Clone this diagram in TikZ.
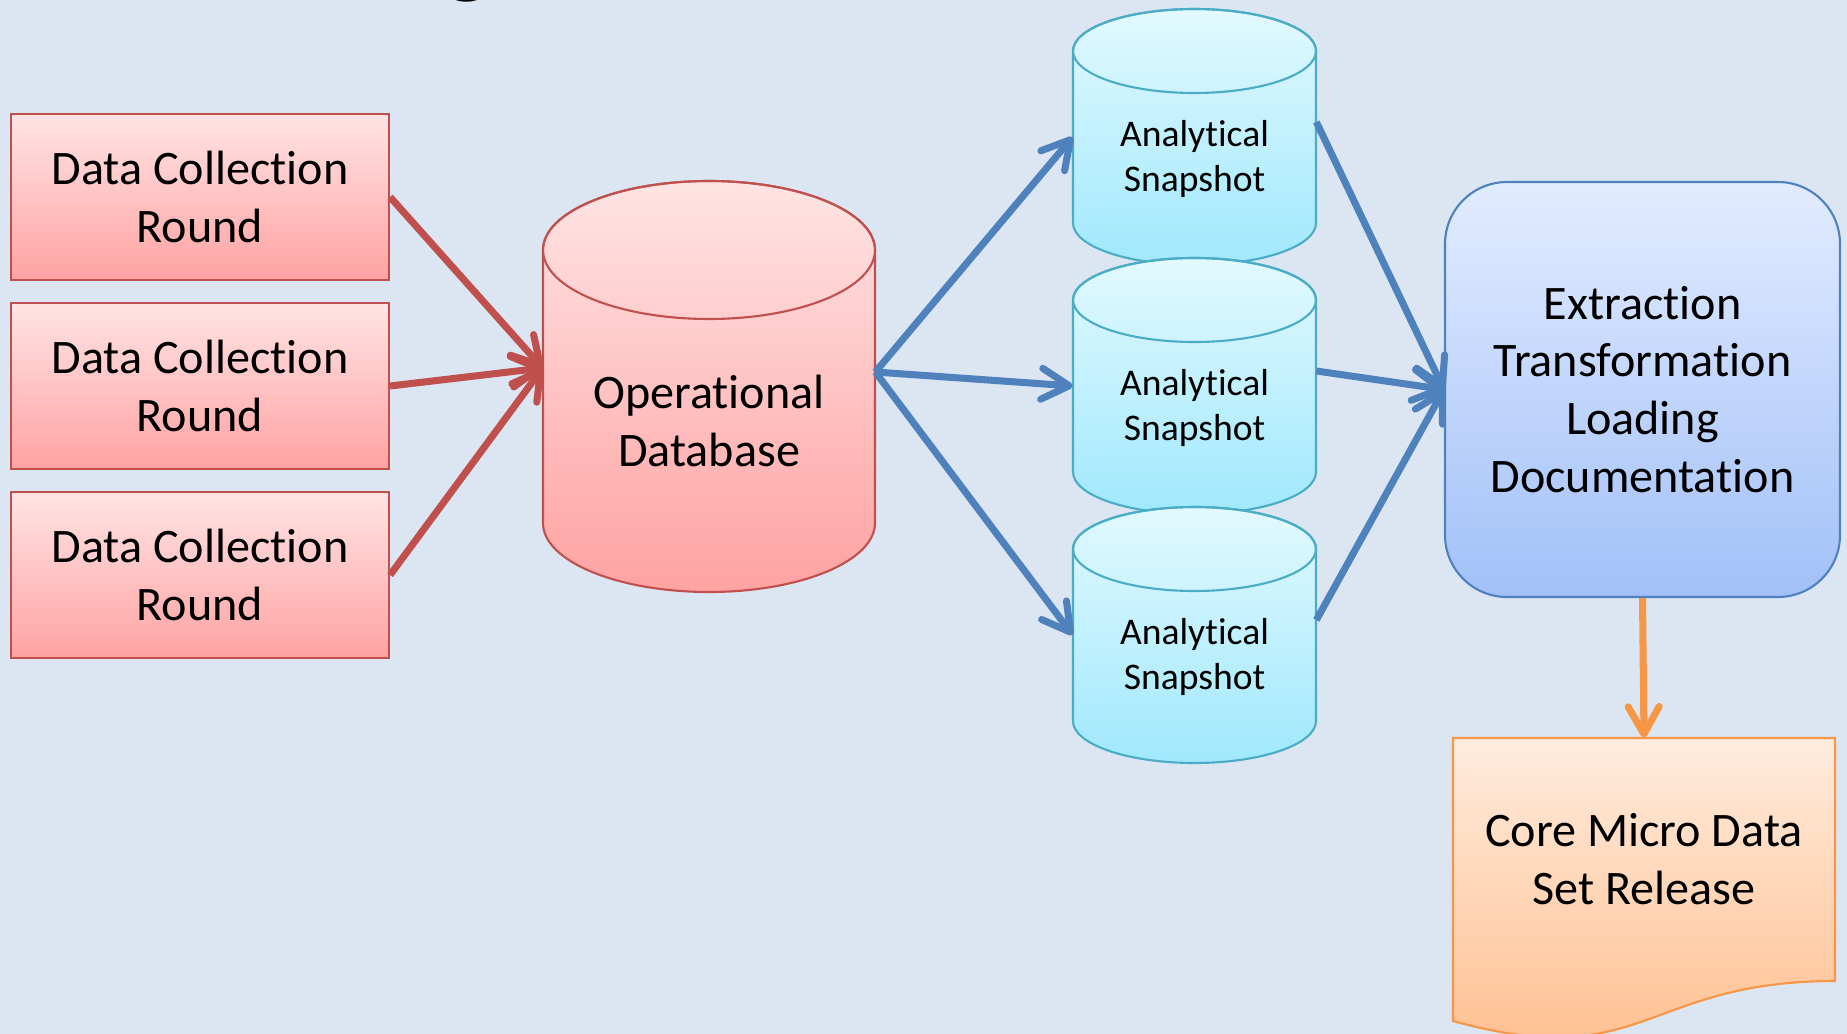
\documentclass[tikz,border=0pt]{standalone}
\usepackage{fontspec}
\setmainfont{Carlito}[Ligatures=NoCommon]
\usetikzlibrary{arrows.meta,calc}

\definecolor{bgcol}{RGB}{220,230,242}
\definecolor{redline}{RGB}{192,80,77}
\definecolor{redtop}{RGB}{255,228,228}
\definecolor{redbot}{RGB}{255,162,162}
\definecolor{cyanline}{RGB}{75,172,198}
\definecolor{cyantop}{RGB}{226,249,255}
\definecolor{cyanbot}{RGB}{160,232,252}
\definecolor{blueline}{RGB}{79,129,189}
\definecolor{bluetop}{RGB}{226,236,255}
\definecolor{bluebot}{RGB}{162,192,248}
\definecolor{orangeline}{RGB}{247,150,70}
\definecolor{orangetop}{RGB}{255,236,222}
\definecolor{orangebot}{RGB}{255,188,138}

% one drawing unit
\newcommand\pxu{0.02cm}

\begin{document}
\begin{tikzpicture}[x=0.02cm, y=-0.02cm,
  bigtext/.style={font=\fontsize{27.4}{32.9}\selectfont, align=center, text=black},
  smalltext/.style={font=\fontsize{21.4}{25.3}\selectfont, align=center, text=black},
  outline/.style={line width=1.2pt},
  collect/.style={bigtext, outline, draw=redline, top color=redtop, bottom color=redbot,
    minimum width=378*\pxu, minimum height=166*\pxu, inner sep=0pt},
  etlbox/.style={bigtext, outline, draw=blueline, top color=bluetop, bottom color=bluebot,
    minimum width=395*\pxu, minimum height=415*\pxu, inner sep=0pt, rounded corners=1.24cm},
  barb/.style={line width=4pt, -{Straight Barb[length=0.55cm, width=0.62cm, round]}},
  redarrow/.style={barb, draw=redline},
  bluearrow/.style={barb, draw=blueline},
  orangearrow/.style={barb, draw=orangeline},
]
\fill[bgcol] (0,0) rectangle (1847,1034);
\useasboundingbox (0,0) rectangle (1847,1034);
\clip (0,0) rectangle (1847,1034);

% tail of the heading letter above the frame
\node[font=\fontsize{56}{60}\bfseries\selectfont, anchor=base, inner sep=0pt] (headg) at (468,-14) {g};

% data collection rounds
\node[collect] (dc1) at (200,197) {Data Collection\\Round};
\node[collect] (dc2) at (200,386) {Data Collection\\Round};
\node[collect] (dc3) at (200,575) {Data Collection\\Round};

% operational database cylinder
\shade[top color=redtop, bottom color=redbot, draw=redline, outline]
  (543,250) -- (543,523) arc[start angle=180, end angle=0, x radius=166, y radius=69]
  -- (875,250) arc[start angle=0, end angle=-180, x radius=166, y radius=69] -- cycle;
\draw[redline, outline] (709,250) ellipse[x radius=166, y radius=69];
\node[bigtext, minimum width=332*\pxu, minimum height=342*\pxu, inner sep=0pt] (db) at (709,421)
  {Operational\\Database};

% analytical snapshot cylinders
\foreach \k/\T in {1/51, 2/300, 3/549} {
  \shade[top color=cyantop, bottom color=cyanbot, draw=cyanline, outline]
    (1073,\T) -- (1073,{\T+172}) arc[start angle=180, end angle=0, x radius=121.5, y radius=42]
    -- (1316,\T) arc[start angle=0, end angle=-180, x radius=121.5, y radius=42] -- cycle;
  \draw[cyanline, outline] (1194.5,\T) ellipse[x radius=121.5, y radius=42];
  \node[smalltext, minimum width=243*\pxu, minimum height=214*\pxu, inner sep=0pt]
    (snap\k) at (1194.5,{\T+108}) {Analytical\\Snapshot};
}

% extraction, transformation, loading, documentation
\node[etlbox] (etl) at (1642.5,389.5) {Extraction\\Transformation\\Loading\\Documentation};

% release document
\shade[top color=orangetop, bottom color=orangebot, draw=orangeline, outline]
  (1453,738) -- (1835,738) -- (1835,981) .. controls (1644,981) and (1644,1074) .. (1453,1021) -- cycle;
\node[bigtext, minimum width=382*\pxu, minimum height=243*\pxu, inner sep=0pt] (doc) at (1644,859.5)
  {Core Micro Data\\Set Release};

% connectors
\foreach \n in {dc1, dc2, dc3}
  \draw[redarrow] (\n.east) -- ($(db.west)+(0,-53)$);
\foreach \n in {snap1, snap2, snap3}
  \draw[bluearrow] ($(db.east)+(0,-49)$) -- ($(\n.west)+(0,-22)$);
\foreach \n in {snap1, snap2, snap3}
  \draw[bluearrow] ($(\n.east)+(0,-37)$) -- (etl.west);
\draw[orangearrow] (etl.south) -- (doc.north);
\end{tikzpicture}
\end{document}
